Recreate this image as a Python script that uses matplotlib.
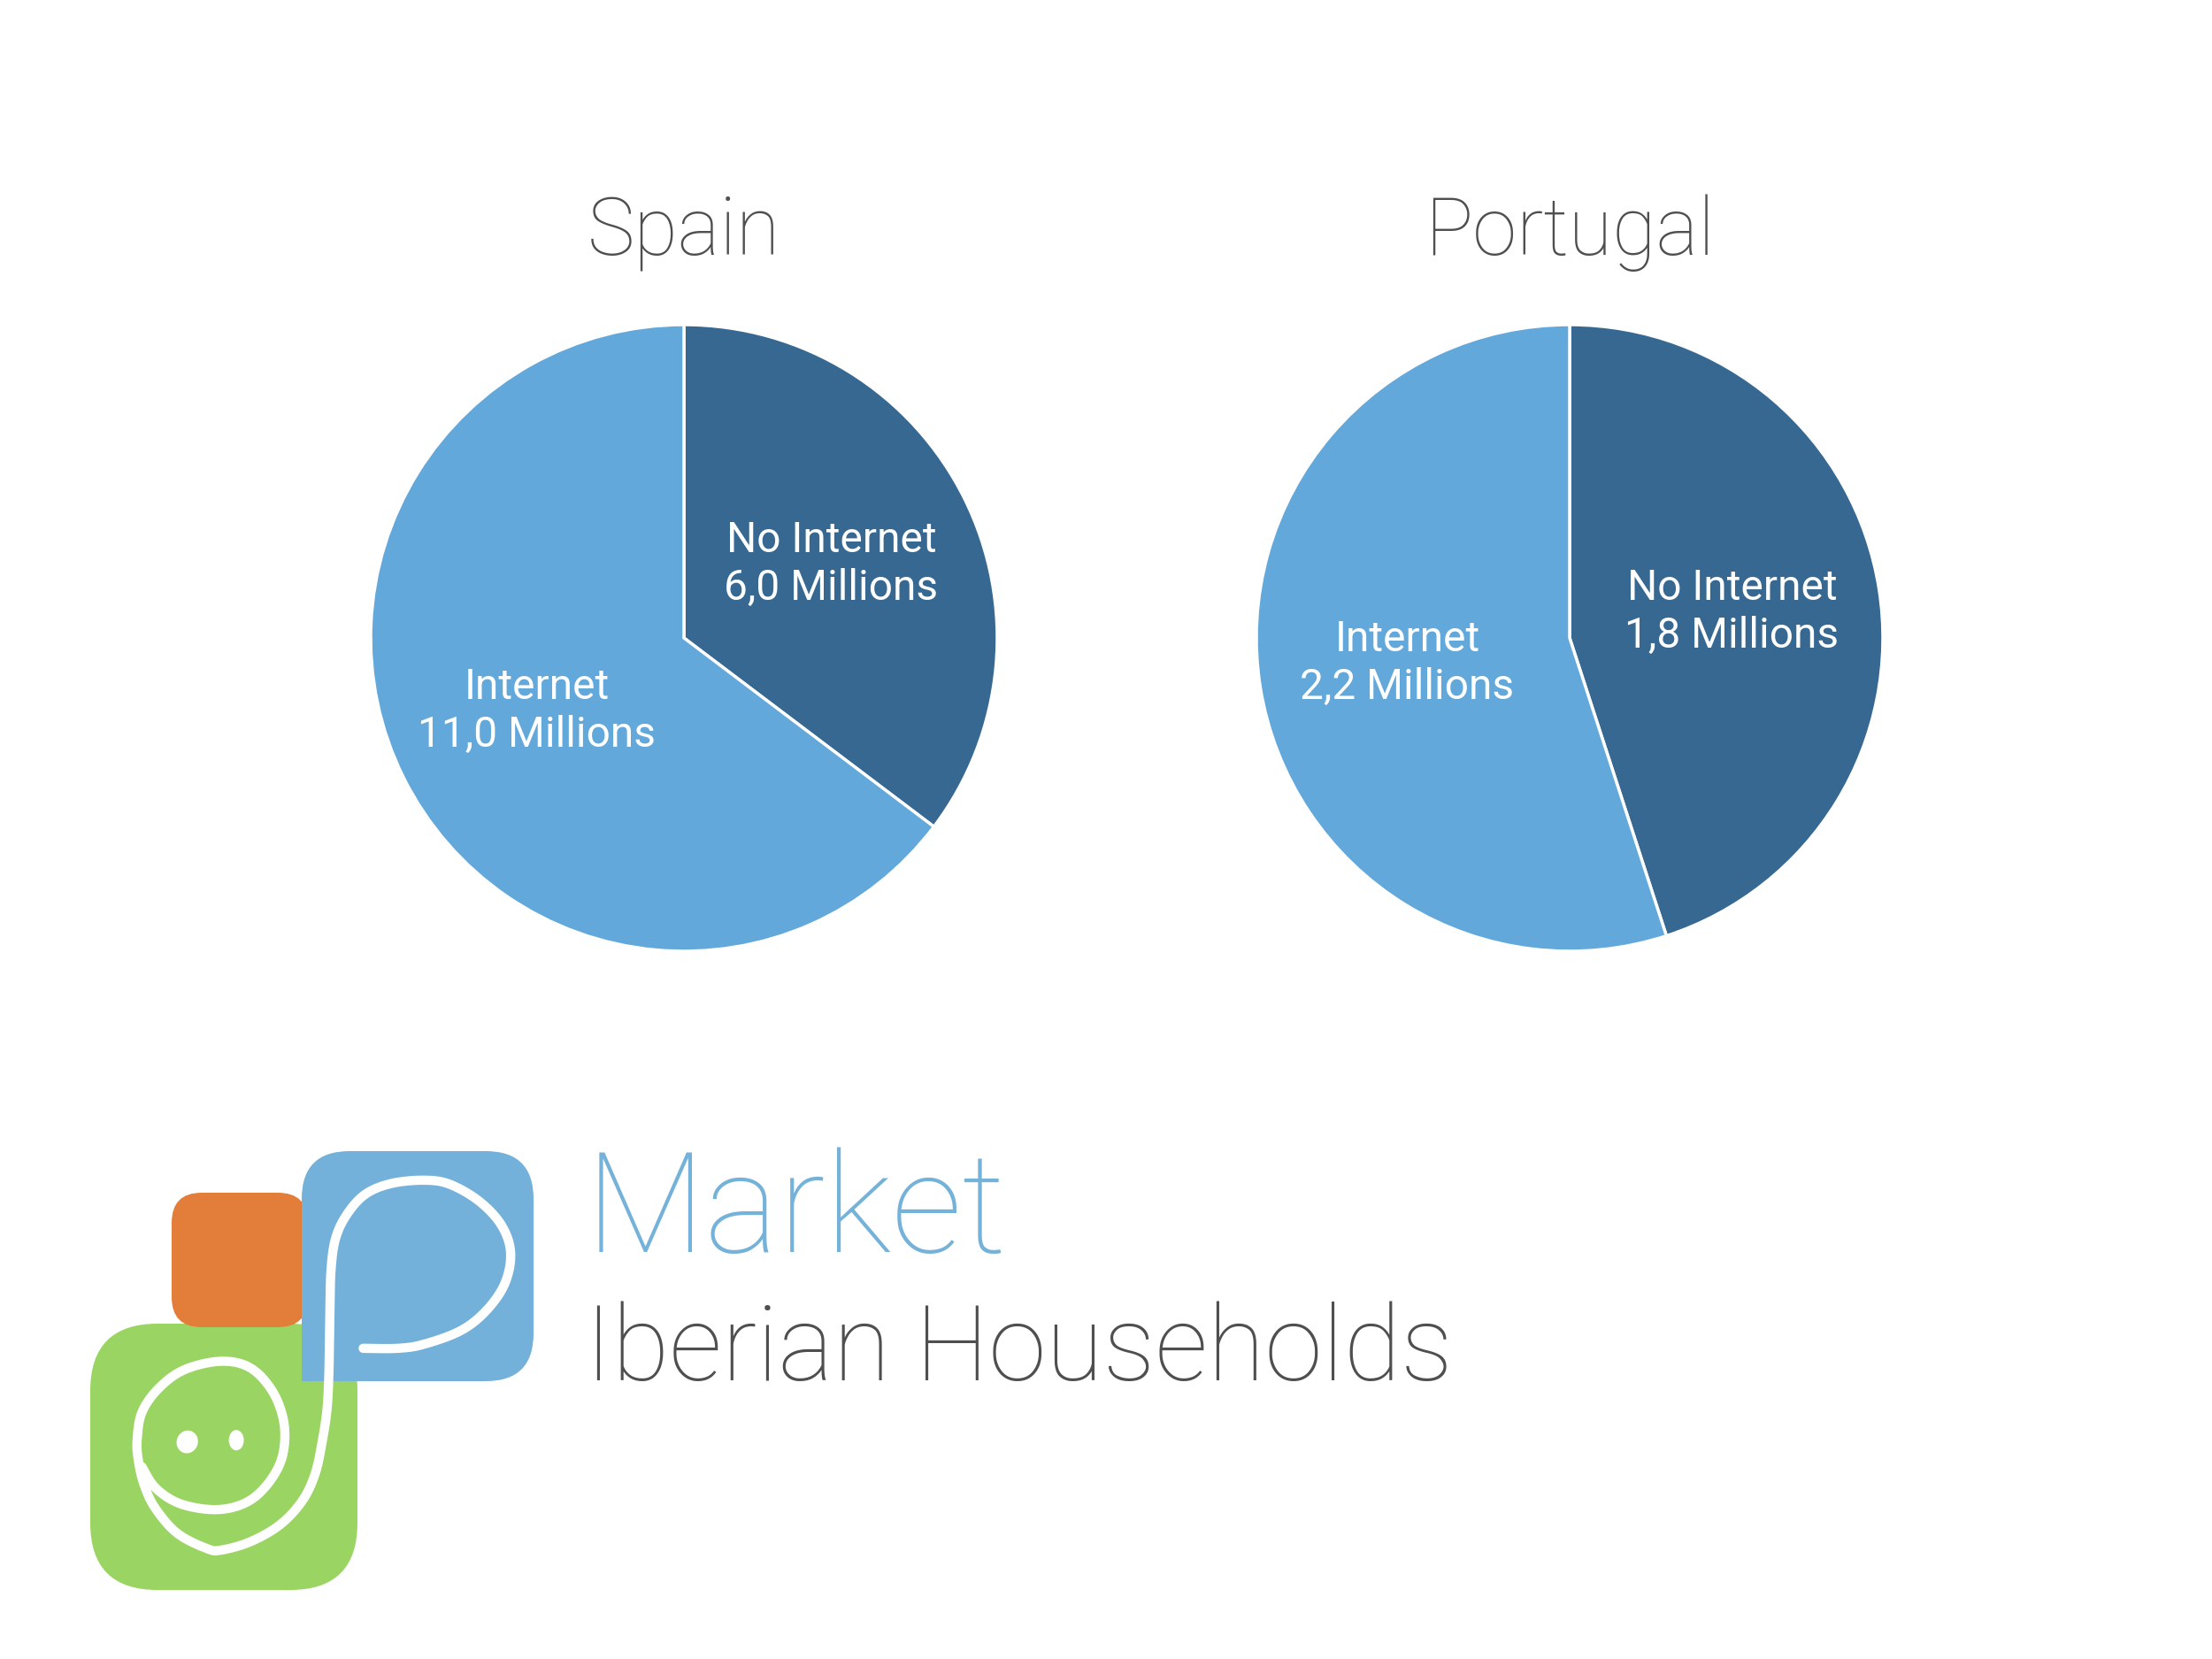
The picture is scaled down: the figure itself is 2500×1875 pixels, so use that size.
import numpy as np
import matplotlib.pyplot as plt
from matplotlib.patches import FancyBboxPatch, Rectangle, Ellipse

# data
countries = ["Spain", "Portugal"]
categories = ["No Internet", "Internet"]
spain_values = [6.0, 11.0]
portugal_values = [1.8, 2.2]

dark_blue = "#366892"
light_blue = "#62A8DB"
grey = "#4F4F4F"

plt.rcParams["font.family"] = ["Roboto", "DejaVu Sans"]

W, H = 2500, 1875
fig = plt.figure(figsize=(10, 7.5), dpi=250)
fig.patch.set_facecolor("white")


def label_text(cat, val):
    return f"{cat}\n{val:.1f}".replace(".", ",") + " Millions"


def draw_pie(cx, cy, r, values, title):
    ax = fig.add_axes([(cx - r) / W, 1 - (cy + r) / H, 2 * r / W, 2 * r / H])
    labels = [label_text(c, v) for c, v in zip(categories, values)]
    wedges, texts = ax.pie(values, labels=labels, colors=[dark_blue, light_blue],
                           startangle=90, counterclock=False, labeldistance=0.525,
                           wedgeprops=dict(edgecolor="white", linewidth=1.0),
                           textprops=dict(color="white", fontsize=13.8, weight="normal"))
    for t in texts:
        t.set_ha("center")
        t.set_va("center")
        t.set_linespacing(1.22)
    for w in wedges:
        w.set_clip_on(False)
    ax.set_xlim(-1, 1)
    ax.set_ylim(-1, 1)
    ax.set_aspect("equal")
    fig.text(cx / W, 1 - 288 / H, title, ha="center", va="baseline",
             fontsize=26, color=grey, weight="light")


draw_pie(773, 721, 354, spain_values, countries[0])
draw_pie(1774, 721, 354, portugal_values, countries[1])

# logo
lg = fig.add_axes([0, 0, 1, 1], zorder=-1)
lg.set_xlim(0, W)
lg.set_ylim(H, 0)
lg.axis("off")


def rbox(x0, y0, x1, y1, r, color):
    lg.add_patch(FancyBboxPatch((x0, y0), x1 - x0, y1 - y0,
                                boxstyle=f"round,pad=0,rounding_size={r}",
                                fc=color, ec="none"))


rbox(102, 1496, 404, 1797, 76, "#9AD462")
rbox(194, 1348, 348, 1500, 34, "#E27E3A")
rbox(341, 1301, 603, 1561, 54, "#73B1DA")
lg.add_patch(Rectangle((341, 1480), 60, 81, fc="#73B1DA", ec="none"))


def smooth(pts, n=16):
    p = np.asarray(pts, float)
    p = np.vstack([p[0], p, p[-1]])
    out = []
    t = np.linspace(0, 1, n, endpoint=False)[:, None]
    for i in range(1, len(p) - 2):
        p0, p1, p2, p3 = p[i - 1], p[i], p[i + 1], p[i + 2]
        out.append(0.5 * (2 * p1 + (-p0 + p2) * t + (2 * p0 - 5 * p1 + 4 * p2 - p3) * t ** 2
                          + (-p0 + 3 * p1 - 3 * p2 + p3) * t ** 3))
    out.append(p[-2][None])
    return np.vstack(out)


stroke = [(985, 712), (1080, 712), (1150, 700), (1250, 660), (1320, 600), (1370, 520),
          (1385, 430), (1360, 350), (1300, 280), (1220, 230), (1150, 218), (1060, 228),
          (990, 260), (940, 320), (910, 390), (898, 480), (895, 600), (893, 750),
          (888, 880), (875, 980), (855, 1080), (820, 1160), (760, 1230), (680, 1280),
          (600, 1305), (560, 1300), (480, 1255), (420, 1180), (390, 1110), (375, 1040),
          (372, 980), (385, 900), (430, 830), (500, 775), (600, 750), (680, 770),
          (740, 840), (770, 930), (768, 1020), (740, 1090), (690, 1150), (630, 1180),
          (560, 1185), (480, 1165), (420, 1120), (385, 1060)]
s = smooth(stroke)
lg.plot(s[:, 0] * 650 / 1560, 1250 + s[:, 1] * 600 / 1560, color="white", lw=3.0,
        solid_capstyle="round", solid_joinstyle="round")
lg.add_patch(Ellipse((508 * 650 / 1560, 1250 + 987 * 600 / 1560), 24, 26, angle=20, fc="white", ec="none"))
lg.add_patch(Ellipse((641 * 650 / 1560, 1250 + 982 * 600 / 1560), 17, 23, fc="white", ec="none"))

fig.text(662 / W, 1 - 1415 / H, "Market", ha="left", va="baseline",
         fontsize=45.5, color="#74B2DA", weight="light")
fig.text(661 / W, 1 - 1560 / H, "Iberian Households", ha="left", va="baseline",
         fontsize=34, color=grey, weight="light")

fig.savefig("out.png", dpi=250, facecolor="white")
